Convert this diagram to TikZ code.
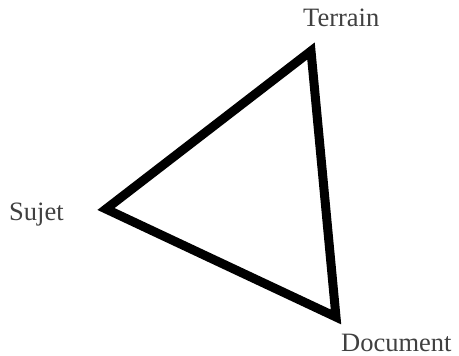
\documentclass[tikz,border=0pt]{standalone}
\usepackage{fontspec}
\setmainfont{Liberation Serif}
\begin{document}
\begin{tikzpicture}[x=1pt,y=-1pt,
  lbl/.style={inner sep=0pt,font=\fontsize{26.5}{29}\selectfont,text=black!75,text depth=0pt},
  edge/.style={line width=9pt,line join=miter}]
\useasboundingbox (0,0) rectangle (459,356);
\coordinate (t) at (311,51);
\coordinate (s) at (106,209);
\coordinate (d) at (336,317);
\draw[edge] (t) -- (s) -- (d) -- cycle;
\node[lbl,anchor=base west] (terrain) at (303,27) {Terrain};
\node[lbl,anchor=base west] (sujet) at (9,220) {Sujet};
\node[lbl,anchor=base west] (doc) at (341,351) {Document};
\end{tikzpicture}
\end{document}
